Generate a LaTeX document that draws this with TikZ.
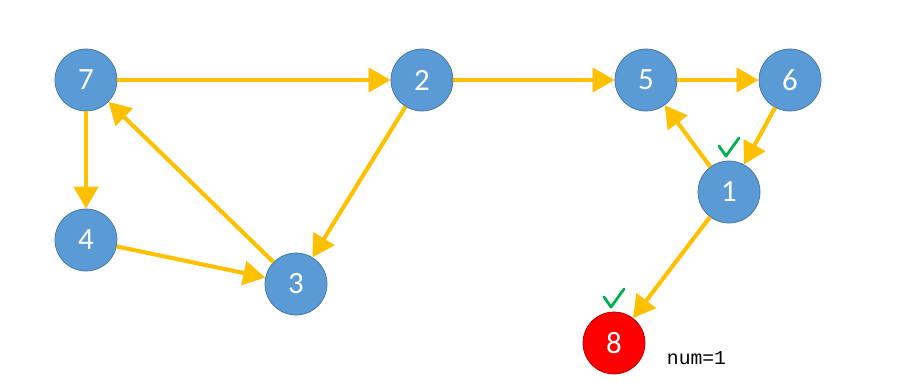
\documentclass[tikz,border=0pt]{standalone}
\usepackage{fontspec}
\setmainfont{Carlito}
\newfontfamily\monofont{Liberation Mono}
\usetikzlibrary{arrows.meta}

\definecolor{nodeblue}{HTML}{5B9BD5}
\definecolor{nodeedge}{HTML}{41719C}
\definecolor{edgeyellow}{HTML}{FFC000}
\definecolor{tickgreen}{HTML}{00B050}

\begin{document}
\begin{tikzpicture}[
	x=0.025cm, y=-0.025cm,
	vertex/.style={circle, draw=nodeedge, line width=0.5pt, fill=nodeblue, minimum size=1.55cm, inner sep=0pt, text=white, font=\fontsize{22}{22}\selectfont},
	target/.style={vertex, fill=red, draw=red!70!black},
	arrow/.style={-{Triangle[length=0.55cm, width=0.6cm]}, line width=2.9pt, draw=edgeyellow},
	tick/.pic={\draw[tickgreen, line width=2pt, line cap=round, line join=round] (-10,-46) -- (-3,-36) -- (10,-54);}
]
	\useasboundingbox (0,0) rectangle (920,383);

	% Vertices
	\node[vertex] (n7) at (86,80) {7};
	\node[vertex] (n2) at (422,80) {2};
	\node[vertex] (n5) at (646,80) {5};
	\node[vertex] (n6) at (790,80) {6};
	\node[vertex] (n1) at (729,192) {1};
	\node[vertex] (n4) at (86,240) {4};
	\node[vertex] (n3) at (296,284) {3};
	\node[target] (n8) at (614,343) {8};

	% Edges
	\draw[arrow] (n7) -- (n2);
	\draw[arrow] (n2) -- (n5);
	\draw[arrow] (n5) -- (n6);
	\draw[arrow] (n6) -- (n1);
	\draw[arrow] (n1) -- (n5);
	\draw[arrow] (n1) -- (n8);
	\draw[arrow] (n7) -- (n4);
	\draw[arrow] (n4) -- (n3);
	\draw[arrow] (n3) -- (n7);
	\draw[arrow] (n2) -- (n3);

	% Visited marks
	\pic at (n1) {tick};
	\pic at (n8) {tick};

	% Counter
	\node[font=\monofont\fontsize{14}{14}\selectfont, anchor=west] (num) at (662,358) {num=1};
\end{tikzpicture}
\end{document}
